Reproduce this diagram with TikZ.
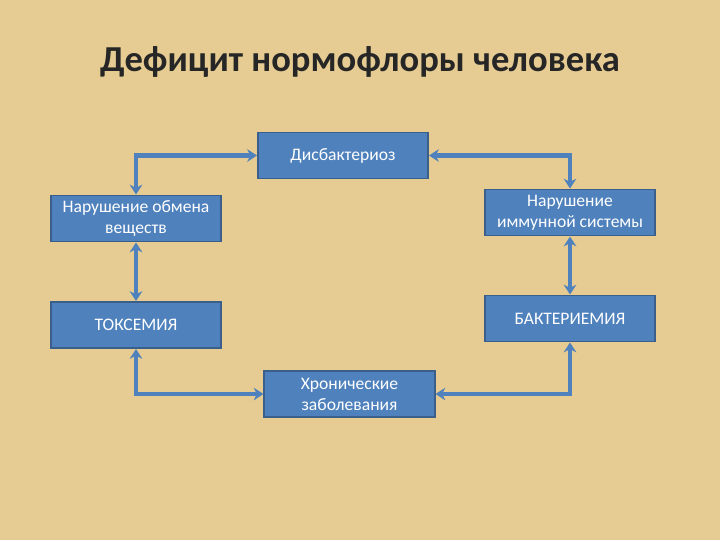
\documentclass[tikz,border=0pt]{standalone}
\usepackage{fontspec}
\setmainfont{Carlito}
\usetikzlibrary{positioning, arrows.meta}

\definecolor{parchment}{HTML}{E6CC92}
\definecolor{boxblue}{HTML}{4F81BD}
\definecolor{boxedge}{HTML}{3A5F8B}

\tikzset{
    block/.style={draw=boxedge, line width=1.4pt, fill=boxblue, text=white,
        minimum width=4.25cm, minimum height=1.15cm, align=center,
        font=\fontsize{12.5}{15}\selectfont},
    link/.style={draw=boxblue, line width=3pt, {Stealth[length=7pt,width=9pt]}-{Stealth[length=7pt,width=9pt]}},
}

\begin{document}
\begin{tikzpicture}[x=0.025cm, y=-0.025cm]
        % background
        \fill[parchment] (0,0) rectangle (720,540);
        \useasboundingbox (0,0) rectangle (720,540);

        % title
        \node[font=\bfseries\fontsize{26}{30}\selectfont, text=black!85] (title) at (360,62) {Дефицит нормофлоры человека};

        % the boxes
        \node[block] (dis)  at (343,155.5) {Дисбактериоз};
        \node[block] (meta) at (136,218.5) {Нарушение обмена\\веществ};
        \node[block] (immu) at (570,212.5) {Нарушение\\иммунной системы};
        \node[block] (toxi) at (136,325) {ТОКСЕМИЯ};
        \node[block] (bakt) at (570,318.5) {БАКТЕРИЕМИЯ};
        \node[block] (chro) at (349.5,394) {Хронические\\заболевания};

        % the corners
        \coordinate (tl) at (136,155.5);
        \coordinate (tr) at (570,155.5);
        \coordinate (bl) at (136,394);
        \coordinate (br) at (570,394);

        % connectors
        \draw[link] (meta.north) -- (tl) -- (dis.west);
        \draw[link] (dis.east) -- (tr) -- (immu.north);
        \draw[link] (meta.south) -- (toxi.north);
        \draw[link] (immu.south) -- (bakt.north);
        \draw[link] (toxi.south) -- (bl) -- (chro.west);
        \draw[link] (chro.east) -- (br) -- (bakt.south);
    \end{tikzpicture}
\end{document}
